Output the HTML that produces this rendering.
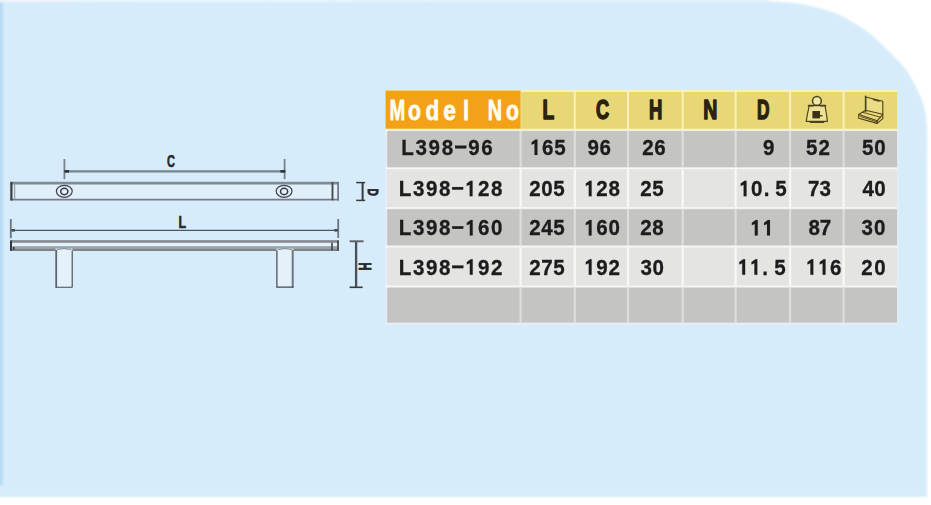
<!DOCTYPE html>
<html>
<head>
<meta charset="utf-8">
<style>
html,body{margin:0;padding:0;}
body{width:931px;height:505px;overflow:hidden;background:#ffffff;position:relative;font-family:"Liberation Sans",sans-serif;font-size:0;line-height:0;color:transparent;}
#bg{position:absolute;left:0;top:0;width:931px;height:505px;}
</style>
</head>
<body>
<svg id="bg" width="931" height="505" viewBox="0 0 931 505">
<defs><filter id="tb" x="-2%" y="-20%" width="104%" height="140%"><feGaussianBlur stdDeviation="0.35"/></filter><filter id="soft" x="-5%" y="-5%" width="110%" height="110%"><feGaussianBlur stdDeviation="0.8"/></filter></defs>
<path filter="url(#soft)" d="M-5,-6 L768,-6 L768,0.8 C770.2,1.0 776.0,1.6 781,2 C786.0,2.4 792.6,2.7 797.7,3.4 C802.8,4.1 807.1,5.1 811.8,6.2 C816.5,7.3 821.3,8.5 826,10 C830.7,11.5 835.8,13.1 840,15 C844.2,16.9 847.2,19.1 851,21.3 C854.8,23.5 858.9,25.6 862.9,28.3 C866.9,31.0 870.8,34.2 874.8,37.7 C878.8,41.2 882.7,45.0 886.7,49 C890.7,53.0 896.0,58.4 899,61.5 C902.0,64.7 903.0,65.5 904.8,67.9 C906.6,70.3 908.3,73.2 909.9,75.8 C911.5,78.4 912.9,81.1 914.3,83.8 C915.7,86.5 917.0,89.2 918.3,91.9 C919.5,94.6 920.6,96.6 921.8,99.8 C922.9,103.0 924.4,106.5 925.2,111 C926.1,115.5 926.5,121.4 926.9,126.7 C927.2,132.0 927.3,134.5 927.3,142.6 C927.3,150.7 927.1,162.1 927.1,175 C927.1,187.9 927.0,212.5 927,220 L927,497 L-5,497 Z" fill="#d7ecfb"/>
<linearGradient id="tg" x1="0" x2="1" y1="0" y2="0"><stop offset="0" stop-color="#fff" stop-opacity="0.6"/><stop offset="0.35" stop-color="#fff" stop-opacity="0.45"/><stop offset="1" stop-color="#fff" stop-opacity="0.35"/></linearGradient>
<rect x="0" y="-1" width="775" height="3" fill="url(#tg)" filter="url(#soft)"/>
<rect x="-2" y="3" width="5" height="482" fill="#b7daf5" filter="url(#soft)"/>
<rect x="385.6" y="89.9" width="511.5" height="41.19999999999999" fill="#fbf1b6"/>
<rect x="385.6" y="90.6" width="135.0" height="38.099999999999994" fill="#f3a116"/>
<rect x="521.1" y="92.0" width="52.7" height="36.7" fill="#e7d776"/>
<rect x="575.8" y="92.0" width="51.2" height="36.7" fill="#e7d776"/>
<rect x="629.0" y="92.0" width="52.7" height="36.7" fill="#e7d776"/>
<rect x="683.7" y="92.0" width="50.9" height="36.7" fill="#e7d776"/>
<rect x="736.6" y="92.0" width="52.5" height="36.7" fill="#e7d776"/>
<rect x="791.1" y="92.0" width="51.5" height="36.7" fill="#e7d776"/>
<rect x="844.6" y="92.0" width="52.5" height="36.7" fill="#e7d776"/>
<rect x="385.3" y="130.0" width="513.1" height="194.90000000000003" fill="#e6eef4"/>
<rect x="387.20000000000005" y="130.0" width="509.9" height="38.2" fill="#c4c4c3"/>
<rect x="387.20000000000005" y="168.2" width="509.9" height="40.0" fill="#e4e4e3"/>
<rect x="387.20000000000005" y="208.2" width="509.9" height="38.2" fill="#c4c4c3"/>
<rect x="387.20000000000005" y="246.4" width="509.9" height="40.2" fill="#e4e4e3"/>
<rect x="387.20000000000005" y="286.6" width="509.9" height="36.0" fill="#c4c4c3"/>
<g fill="#ffffff">
<rect x="385.6" y="130.0" width="511.5" height="1.0" opacity="0.72"/>
<rect x="385.6" y="167.2" width="511.5" height="2.0" opacity="0.72"/>
<rect x="385.6" y="207.2" width="511.5" height="2.0" opacity="0.72"/>
<rect x="385.6" y="245.4" width="511.5" height="2.0" opacity="0.72"/>
<rect x="385.6" y="285.6" width="511.5" height="2.0" opacity="0.72"/>
<rect x="519.5" y="131.0" width="2.2" height="36.2" opacity="0.42"/>
<rect x="573.7" y="131.0" width="2.2" height="36.2" opacity="0.42"/>
<rect x="626.9" y="131.0" width="2.2" height="36.2" opacity="0.42"/>
<rect x="681.6" y="131.0" width="2.2" height="36.2" opacity="0.42"/>
<rect x="734.5" y="131.0" width="2.2" height="36.2" opacity="0.42"/>
<rect x="789.0" y="131.0" width="2.2" height="36.2" opacity="0.42"/>
<rect x="842.5" y="131.0" width="2.2" height="36.2" opacity="0.42"/>
<rect x="519.5" y="169.2" width="2.2" height="38.0" opacity="0.75"/>
<rect x="573.7" y="169.2" width="2.2" height="38.0" opacity="0.75"/>
<rect x="626.9" y="169.2" width="2.2" height="38.0" opacity="0.75"/>
<rect x="681.6" y="169.2" width="2.2" height="38.0" opacity="0.75"/>
<rect x="734.5" y="169.2" width="2.2" height="38.0" opacity="0.75"/>
<rect x="789.0" y="169.2" width="2.2" height="38.0" opacity="0.75"/>
<rect x="842.5" y="169.2" width="2.2" height="38.0" opacity="0.75"/>
<rect x="519.5" y="209.2" width="2.2" height="36.2" opacity="0.42"/>
<rect x="573.7" y="209.2" width="2.2" height="36.2" opacity="0.42"/>
<rect x="626.9" y="209.2" width="2.2" height="36.2" opacity="0.42"/>
<rect x="681.6" y="209.2" width="2.2" height="36.2" opacity="0.42"/>
<rect x="734.5" y="209.2" width="2.2" height="36.2" opacity="0.42"/>
<rect x="789.0" y="209.2" width="2.2" height="36.2" opacity="0.42"/>
<rect x="842.5" y="209.2" width="2.2" height="36.2" opacity="0.42"/>
<rect x="519.5" y="247.4" width="2.2" height="38.2" opacity="0.75"/>
<rect x="573.7" y="247.4" width="2.2" height="38.2" opacity="0.75"/>
<rect x="626.9" y="247.4" width="2.2" height="38.2" opacity="0.75"/>
<rect x="681.6" y="247.4" width="2.2" height="38.2" opacity="0.75"/>
<rect x="734.5" y="247.4" width="2.2" height="38.2" opacity="0.75"/>
<rect x="789.0" y="247.4" width="2.2" height="38.2" opacity="0.75"/>
<rect x="842.5" y="247.4" width="2.2" height="38.2" opacity="0.75"/>
<rect x="519.5" y="287.6" width="2.2" height="35.0" opacity="0.42"/>
<rect x="573.7" y="287.6" width="2.2" height="35.0" opacity="0.42"/>
<rect x="626.9" y="287.6" width="2.2" height="35.0" opacity="0.42"/>
<rect x="681.6" y="287.6" width="2.2" height="35.0" opacity="0.42"/>
<rect x="734.5" y="287.6" width="2.2" height="35.0" opacity="0.42"/>
<rect x="789.0" y="287.6" width="2.2" height="35.0" opacity="0.42"/>
<rect x="842.5" y="287.6" width="2.2" height="35.0" opacity="0.42"/>
</g>
<g fill="none" stroke-linecap="butt">
<rect x="10.5" y="182" width="328" height="18.2" fill="#e0effb" stroke="none"/>
<line x1="10.5" y1="183.2" x2="338.8" y2="183.2" stroke="#7f8a94" stroke-width="2.8"/>
<line x1="10.5" y1="199.6" x2="338.8" y2="199.6" stroke="#747e88" stroke-width="1.9"/>
<line x1="11.4" y1="181.9" x2="11.4" y2="200.5" stroke="#3f4348" stroke-width="2.3"/>
<line x1="14.7" y1="184.4" x2="14.7" y2="198.8" stroke="#7a848e" stroke-width="0.9"/>
<line x1="332.5" y1="182" x2="332.5" y2="200.4" stroke="#474b50" stroke-width="1.9"/>
<line x1="338.1" y1="182" x2="338.1" y2="200.5" stroke="#6b7580" stroke-width="1.7"/>
<ellipse cx="64.3" cy="191.3" rx="7.9" ry="6.0" stroke="#3f4348" stroke-width="1.2"/>
<ellipse cx="64.3" cy="191.5" rx="3.6" ry="3.2" stroke="#33373b" stroke-width="1.5"/>
<ellipse cx="284.1" cy="191.3" rx="7.9" ry="6.0" stroke="#3f4348" stroke-width="1.2"/>
<ellipse cx="284.1" cy="191.5" rx="3.6" ry="3.2" stroke="#33373b" stroke-width="1.5"/>
<line x1="64.3" y1="171.3" x2="284.6" y2="171.3" stroke="#76828d" stroke-width="2.2"/>
<line x1="64.4" y1="159" x2="64.4" y2="179.2" stroke="#76818c" stroke-width="1.8"/>
<line x1="284.6" y1="159" x2="284.6" y2="179.2" stroke="#76818c" stroke-width="1.8"/>
<rect x="64.4" y="170.1" width="4.6" height="2.5" fill="#2c3035" stroke="none"/>
<rect x="280.4" y="170.1" width="5" height="2.5" fill="#2c3035" stroke="none"/>
<line x1="11.4" y1="230.4" x2="338" y2="230.4" stroke="#4d5660" stroke-width="1.4"/>
<line x1="10.8" y1="219" x2="10.8" y2="238.2" stroke="#6b7580" stroke-width="1.8"/>
<line x1="338.2" y1="219" x2="338.2" y2="238" stroke="#6b7580" stroke-width="1.8"/>
<rect x="10.5" y="241" width="328" height="9.5" fill="#e2f0fb" stroke="none"/>
<rect x="10.5" y="240.1" width="328.3" height="2.7" fill="#878c92" stroke="none"/>
<rect x="10.5" y="246.2" width="328.3" height="3.6" fill="#98a0a8" stroke="none"/>
<line x1="10.5" y1="250.1" x2="338.8" y2="250.1" stroke="#5b5f64" stroke-width="1.2"/>
<line x1="11.0" y1="240.6" x2="11.0" y2="250.8" stroke="#33363a" stroke-width="2.0"/>
<rect x="13.0" y="247" width="1.6" height="2.8" fill="#3a3d41" stroke="none"/>
<line x1="332.0" y1="242.5" x2="332.0" y2="250.5" stroke="#3f4347" stroke-width="1.6"/>
<line x1="338.0" y1="240.6" x2="338.0" y2="250.8" stroke="#3f4347" stroke-width="1.7"/>
<rect x="333" y="243.2" width="4" height="2.6" fill="#e2f0fb" stroke="none"/>
<rect x="55.6" y="248.6" width="16.8" height="38.7" fill="#e4f1fb" stroke="none"/>
<rect x="276.6" y="248.6" width="16.8" height="38.7" fill="#e4f1fb" stroke="none"/>
<path d="M56.2,250 L56.2,287.3" stroke="#5c6670" stroke-width="1.8"/>
<path d="M55.4,287.2 L72.6,287.2 M72.2,250.6 L72.2,287.3" stroke="#44484d" stroke-width="1.1"/>
<path d="M292.7,250 L292.7,287.3" stroke="#6b7681" stroke-width="2.0"/>
<path d="M276.2,287.2 L293.6,287.2 M276.9,250.6 L276.9,287.3" stroke="#44484d" stroke-width="1.2"/>
<path d="M56.800000000000004,249.6 Q64.0,247.6 71.2,249.6" stroke="#7a828a" stroke-width="0.9"/>
<path d="M277.8,249.6 Q285.0,247.6 292.20000000000005,249.6" stroke="#7a828a" stroke-width="0.9"/>
<line x1="362.6" y1="182.2" x2="362.6" y2="200.8" stroke="#3a3a3a" stroke-width="2.0"/>
<line x1="356.2" y1="182.6" x2="365.2" y2="182.6" stroke="#3a3a3a" stroke-width="1.5"/>
<line x1="356.2" y1="200.4" x2="365.2" y2="200.4" stroke="#3a3a3a" stroke-width="1.5"/>
<line x1="356.1" y1="241" x2="356.1" y2="287.8" stroke="#4a4f55" stroke-width="2.3"/>
<line x1="349.6" y1="241.3" x2="363.6" y2="241.3" stroke="#5a6067" stroke-width="1.9"/>
<line x1="349.6" y1="287.3" x2="362.6" y2="287.3" stroke="#3a3a3a" stroke-width="1.6"/>
</g>
<g font-family="Liberation Sans, sans-serif" font-weight="bold" fill="#262626" stroke="#262626" stroke-width="0.55" text-anchor="middle">
<text transform="translate(170.9,167.0) scale(0.66,1)" font-size="16.6">C</text>
<text transform="translate(182.4,227.6) scale(0.76,1)" font-size="16.4">L</text>
<text transform="translate(368.0,192.3) rotate(90) scale(0.68,1)" font-size="15.2" stroke-width="0.9">D</text>
<text transform="translate(359.0,266.3) rotate(90) scale(0.66,1)" font-size="16.4" stroke-width="0.9">H</text>
</g>
<rect x="11.4" y="229" width="3.5" height="2.6" fill="#4a4a4a"/>
<rect x="334.3" y="229" width="3.5" height="2.6" fill="#4a4a4a"/>
<g fill="none" stroke="#4d421c" stroke-width="1.1" stroke-linejoin="round" stroke-linecap="round">
<circle cx="816.9" cy="100.9" r="4.4" fill="#f1e8ac" stroke-width="1.5"/>
<path d="M809.2,105.6 L825.0,105.6 Q826.6,114 827.4,121.4 L806.2,121.4 Q807.4,114 809.2,105.6 Z" fill="#ede294" stroke-width="1.15"/>
<path d="M808.6,105.7 L812.8,105.7 M820.8,105.7 L825.4,105.7" stroke-width="1.7"/>
<path d="M810.5,122.2 L823.5,122.2" stroke-width="1.6"/>
<rect x="812.4" y="111.0" width="7.6" height="7.4" fill="#3a3116" stroke="none"/>
<rect x="820" y="115.1" width="2.6" height="1.3" fill="#3a3116" stroke="none"/>
<path d="M865.6,97.0 L882.8,101.3 L882.8,114.3 L865.6,110.3 Z" fill="#eadd86"/>
<path d="M865.6,96.4 L865.6,111.6" stroke-width="1.6"/>
<path d="M873.5,99.6 L879,101.0" stroke-width="1.5"/>
<path d="M865.6,110.3 L858.7,114.5 L877.3,120.7 L882.8,114.3"/>
<path d="M858.7,114.5 L858.7,118.3 L877.1,123.4 L877.3,120.7"/>
<path d="M877.1,123.4 L882.8,118.6 L882.8,114.3"/>
<path d="M862.6,112.3 L880.6,117.2 M860.6,116.6 L877.2,121.9" stroke-width="0.9"/>
</g>
<g filter="url(#tb)" font-family="Liberation Sans, sans-serif" font-weight="bold" font-size="22.6" fill="#1b1b1b" stroke="#1b1b1b" stroke-width="0.3">
<text transform="scale(0.91,1)" x="440.84 456.55 471.02 485.49 499.96 514.44 528.91" y="155.0">L398 96</text>
<rect x="455.19" y="145.80" width="11.0" height="2.5"/>
<text transform="scale(0.91,1)" x="582.18 595.58 608.99" y="155.0"> 65</text>
<path d="M534.53,155.00 L534.53,143.41 L531.58,144.81 L531.58,142.31 L535.48,139.41 L537.43,139.41 L537.43,155.00 Z" stroke-width="0.1"/>
<text transform="scale(0.91,1)" x="645.59 658.69" y="155.0">96</text>
<text transform="scale(0.91,1)" x="705.81 718.91" y="155.0">26</text>
<text transform="scale(0.91,1)" x="838.40" y="155.0">9</text>
<text transform="scale(0.91,1)" x="885.70 899.46" y="155.0">52</text>
<text transform="scale(0.91,1)" x="947.23 960.67" y="155.0">50</text>
<text transform="scale(0.91,1)" x="438.20 453.73 468.01 482.30 496.59 510.88 525.16 539.45" y="196.3">L398  28</text>
<path d="M469.65,196.30 L469.65,184.71 L466.70,186.11 L466.70,183.61 L470.60,180.71 L472.55,180.71 L472.55,196.30 Z" stroke-width="0.1"/>
<rect x="452.11" y="187.10" width="11.0" height="2.5"/>
<text transform="scale(0.91,1)" x="581.52 594.72 607.91" y="196.3">205</text>
<text transform="scale(0.91,1)" x="641.74 655.14 668.55" y="196.3"> 28</text>
<path d="M588.73,196.30 L588.73,184.71 L585.78,186.11 L585.78,183.61 L589.68,180.71 L591.63,180.71 L591.63,196.30 Z" stroke-width="0.1"/>
<text transform="scale(0.91,1)" x="703.50 716.70" y="196.3">25</text>
<text transform="scale(0.91,1)" x="811.96 825.36" y="196.3"> 0</text>
<path d="M743.63,196.30 L743.63,184.71 L740.68,186.11 L740.68,183.61 L744.58,180.71 L746.53,180.71 L746.53,196.30 Z" stroke-width="0.1"/>
<text transform="scale(0.91,1)" x="839.20" y="196.3">.</text>
<text transform="scale(0.91,1)" x="851.80" y="196.3">5</text>
<text transform="scale(0.91,1)" x="887.78 900.45" y="196.3">73</text>
<text transform="scale(0.91,1)" x="947.69 960.67" y="196.3">40</text>
<text transform="scale(0.91,1)" x="438.20 453.76 468.08 482.40 496.72 511.04 525.36 539.68" y="235.5">L398  60</text>
<path d="M469.79,235.50 L469.79,223.91 L466.84,225.31 L466.84,222.81 L470.74,219.91 L472.69,219.91 L472.69,235.50 Z" stroke-width="0.1"/>
<rect x="452.23" y="226.30" width="11.0" height="2.5"/>
<text transform="scale(0.91,1)" x="581.52 594.72 607.91" y="235.5">245</text>
<text transform="scale(0.91,1)" x="641.74 655.14 668.55" y="235.5"> 60</text>
<path d="M588.73,235.50 L588.73,223.91 L585.78,225.31 L585.78,222.81 L589.68,219.91 L591.63,219.91 L591.63,235.50 Z" stroke-width="0.1"/>
<text transform="scale(0.91,1)" x="703.50 716.70" y="235.5">28</text>
<text transform="scale(0.91,1)" x="824.26 837.67" y="235.5">  </text>
<path d="M754.83,235.50 L754.83,223.91 L751.88,225.31 L751.88,222.81 L755.78,219.91 L757.73,219.91 L757.73,235.50 Z" stroke-width="0.1"/>
<path d="M767.03,235.50 L767.03,223.91 L764.08,225.31 L764.08,222.81 L767.98,219.91 L769.93,219.91 L769.93,235.50 Z" stroke-width="0.1"/>
<text transform="scale(0.91,1)" x="888.44 900.89" y="235.5">87</text>
<text transform="scale(0.91,1)" x="946.58 960.34" y="235.5">30</text>
<text transform="scale(0.91,1)" x="438.20 453.76 468.08 482.40 496.72 511.04 525.36 539.68" y="274.8">L398  92</text>
<path d="M469.79,274.80 L469.79,263.21 L466.84,264.61 L466.84,262.11 L470.74,259.21 L472.69,259.21 L472.69,274.80 Z" stroke-width="0.1"/>
<rect x="452.23" y="265.60" width="11.0" height="2.5"/>
<text transform="scale(0.91,1)" x="581.52 594.72 607.91" y="274.8">275</text>
<text transform="scale(0.91,1)" x="641.74 655.14 668.55" y="274.8"> 92</text>
<path d="M588.73,274.80 L588.73,263.21 L585.78,264.61 L585.78,262.11 L589.68,259.21 L591.63,259.21 L591.63,274.80 Z" stroke-width="0.1"/>
<text transform="scale(0.91,1)" x="703.72 716.93" y="274.8">30</text>
<text transform="scale(0.91,1)" x="810.42 823.83" y="274.8">  </text>
<path d="M742.23,274.80 L742.23,263.21 L739.28,264.61 L739.28,262.11 L743.18,259.21 L745.13,259.21 L745.13,274.80 Z" stroke-width="0.1"/>
<path d="M754.43,274.80 L754.43,263.21 L751.48,264.61 L751.48,262.11 L755.38,259.21 L757.33,259.21 L757.33,274.80 Z" stroke-width="0.1"/>
<text transform="scale(0.91,1)" x="837.61" y="274.8">.</text>
<text transform="scale(0.91,1)" x="850.87" y="274.8">5</text>
<text transform="scale(0.91,1)" x="885.36 898.77 912.18" y="274.8">  6</text>
<path d="M810.43,274.80 L810.43,263.21 L807.48,264.61 L807.48,262.11 L811.38,259.21 L813.33,259.21 L813.33,274.80 Z" stroke-width="0.1"/>
<path d="M822.63,274.80 L822.63,263.21 L819.68,264.61 L819.68,262.11 L823.58,259.21 L825.53,259.21 L825.53,274.80 Z" stroke-width="0.1"/>
<text transform="scale(0.91,1)" x="946.57 960.67" y="274.8">20</text>
</g>
<text transform="translate(389.42,120.4) scale(0.633,1)" font-family="Liberation Sans, sans-serif" font-weight="bold" font-size="29.8" fill="#fffdf0" stroke="#fffdf0" stroke-width="0.7" vector-effect="non-scaling-stroke" stroke-linejoin="round">M</text>
<text transform="translate(487.86,120.4) scale(0.666,1)" font-family="Liberation Sans, sans-serif" font-weight="bold" font-size="29.8" fill="#fffdf0" stroke="#fffdf0" stroke-width="0.7" vector-effect="non-scaling-stroke" stroke-linejoin="round">N</text>
<text transform="translate(407.91,119.9) scale(0.752,1)" font-family="Liberation Sans, sans-serif" font-weight="bold" font-size="28.3" fill="#fffdf0" stroke="#fffdf0" stroke-width="0.7" vector-effect="non-scaling-stroke" stroke-linejoin="round">o</text>
<text transform="translate(425.45,119.9) scale(0.797,1)" font-family="Liberation Sans, sans-serif" font-weight="bold" font-size="28.3" fill="#fffdf0" stroke="#fffdf0" stroke-width="0.7" vector-effect="non-scaling-stroke" stroke-linejoin="round">d</text>
<text transform="translate(443.27,119.9) scale(0.806,1)" font-family="Liberation Sans, sans-serif" font-weight="bold" font-size="28.3" fill="#fffdf0" stroke="#fffdf0" stroke-width="0.7" vector-effect="non-scaling-stroke" stroke-linejoin="round">e</text>
<text transform="translate(463.03,119.9) scale(0.777,1)" font-family="Liberation Sans, sans-serif" font-weight="bold" font-size="28.3" fill="#fffdf0" stroke="#fffdf0" stroke-width="0.7" vector-effect="non-scaling-stroke" stroke-linejoin="round">l</text>
<text transform="translate(506.01,119.9) scale(0.752,1)" font-family="Liberation Sans, sans-serif" font-weight="bold" font-size="28.3" fill="#fffdf0" stroke="#fffdf0" stroke-width="0.7" vector-effect="non-scaling-stroke" stroke-linejoin="round">o</text>
<text transform="translate(542.50,119.0) scale(0.697,1)" font-family="Liberation Sans, sans-serif" font-weight="bold" font-size="27.6" fill="#2b2110" stroke="#2b2110" stroke-width="1.3" vector-effect="non-scaling-stroke" stroke-linejoin="round">L</text>
<text transform="translate(595.92,119.0) scale(0.659,1)" font-family="Liberation Sans, sans-serif" font-weight="bold" font-size="27.6" fill="#2b2110" stroke="#2b2110" stroke-width="1.3" vector-effect="non-scaling-stroke" stroke-linejoin="round">C</text>
<text transform="translate(649.04,119.0) scale(0.670,1)" font-family="Liberation Sans, sans-serif" font-weight="bold" font-size="27.6" fill="#2b2110" stroke="#2b2110" stroke-width="1.3" vector-effect="non-scaling-stroke" stroke-linejoin="round">H</text>
<text transform="translate(703.18,119.0) scale(0.707,1)" font-family="Liberation Sans, sans-serif" font-weight="bold" font-size="27.6" fill="#2b2110" stroke="#2b2110" stroke-width="1.3" vector-effect="non-scaling-stroke" stroke-linejoin="round">N</text>
<text transform="translate(756.91,119.0) scale(0.627,1)" font-family="Liberation Sans, sans-serif" font-weight="bold" font-size="27.6" fill="#2b2110" stroke="#2b2110" stroke-width="1.3" vector-effect="non-scaling-stroke" stroke-linejoin="round">D</text>
</svg>
</body>
</html>
